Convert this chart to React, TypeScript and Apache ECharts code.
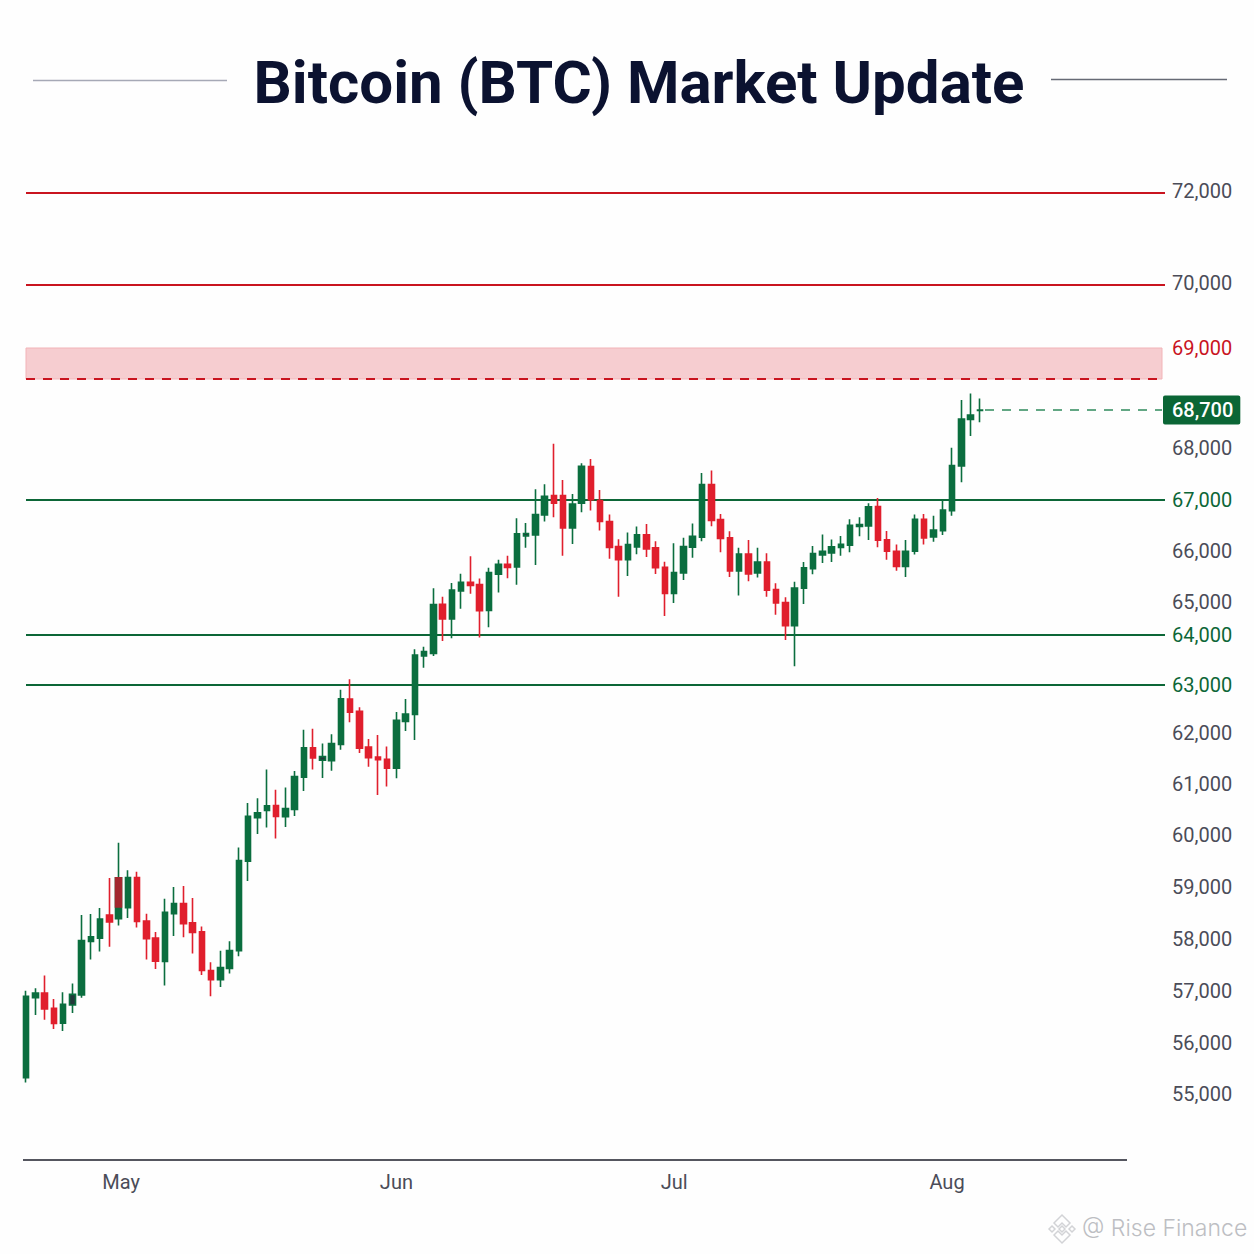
import React, { useEffect, useRef } from "react";
import * as echarts from "echarts";

const title = "Bitcoin (BTC) Market Update";
const watermark = "@ Rise Finance";

const bodyTops = [
  56898,56962,56962,56666,56743,56936,57972,58043,58384,58461,59175,59181,59181,58345,58017,58512,58680,58680,58313,58139,
  57393,57451,57779,59510,60365,60436,60571,60578,60520,61144,61710,61710,61536,61793,62715,62708,62451,61723,61530,61485,
  62264,62396,63600,63667,64919,64929,65233,65388,65388,65343,65576,65737,65737,66332,66339,66707,67063,67076,67076,66914,
  67645,67639,66979,66572,66087,66125,66313,66313,66061,65679,65576,66087,66287,67289,67289,66610,66255,65938,65938,65783,
  65783,65246,64980,65272,65673,65951,65996,66080,66132,66500,66513,66856,66863,66216,65996,65996,66617,66617,66407,66794,
  67658,68534,68608,68700,
];
const bodyBottoms = [
  55322,56872,56653,56377,56383,56731,56923,57953,58017,58326,58390,58603,58339,58004,57573,57567,58487,58294,58126,57393,
  57219,57219,57432,57773,59497,60340,60481,60365,60359,60501,61131,61510,61465,61459,61774,62431,61703,61517,61478,61311,
  61311,62243,62389,63580,63633,64485,64485,65219,65323,64737,64747,65543,65679,65686,66293,66313,66701,66927,66449,66449,
  66927,66998,66572,66067,65828,65828,66080,66041,65673,65168,65168,65569,66074,66268,66591,66242,65608,65608,65550,65569,
  65233,64970,64283,64283,65272,65653,65925,65964,66067,66112,66475,66487,66209,65996,65699,65699,65996,66255,66271,66394,
  66781,67652,68528,68690,
];
const highs = [
  57007,57052,57297,56846,56975,57142,58461,58480,58596,59175,59851,59323,59291,58487,58133,58776,59001,59021,58789,58242,
  57554,57773,57959,59760,60629,60719,61285,60887,60931,61253,62070,62090,61793,61974,62903,63113,62535,61884,61961,61736,
  62438,62708,63713,63767,65272,65103,65374,65556,65899,65459,65673,65828,65905,66636,66546,67199,67296,68078,67380,67108,
  67703,67787,67186,66707,66229,66358,66475,66526,66190,65789,66151,66255,66533,67516,67561,66720,66384,66061,66216,66061,
  65957,65369,65091,65395,65783,66099,66319,66222,66293,66617,66656,66927,67031,66390,66125,66216,66707,66720,66684,66994,
  68006,68748,68780,68756,
];
const lows = [
  55225,56538,56447,56267,56229,56576,56872,57605,57760,57850,58262,58403,58223,57605,57425,57104,58056,58036,57721,57309,
  56898,57078,57335,57670,59117,60018,60147,59934,60159,60372,60861,61285,61118,61260,61671,62222,61607,61337,60784,60951,
  61112,62042,61864,63347,63580,63880,63933,64798,65162,63950,64232,65188,65466,65336,66061,65724,66572,66656,65905,66138,
  66753,66785,66397,65847,65104,65511,65938,65880,65550,64576,64970,65433,65867,66190,66481,65977,65492,65129,65407,65479,
  65104,64616,63899,63374,64939,65543,65763,65783,65905,65977,66287,66216,66074,65828,65614,65492,65931,66125,66181,66310,
  66684,67336,68221,68473,
];
const redCandles = [2,3,9,12,13,14,17,18,19,20,27,31,35,36,37,38,39,45,48,49,52,57,58,61,62,63,64,67,68,69,74,75,76,78,80,81,82,92,93,94,97];
const darkCandles = [5,32,54,90];
const overlapCandle = { index: 10, top: 59175, bottom: 58615 };

const emptySlots = 20;
const monthLabels: Record<number, string> = { 10: "May", 40: "Jun", 70: "Jul", 100: "Aug" };

// Price labels as printed; the source's scale is not even, so each price has its own plotted height.
const tickPrices = [55000,56000,57000,58000,59000,60000,61000,62000,63000,64000,65000,66000,67000,68000,68700,69000,70000,72000];
const tickHeights = [0,51,103,155,207,259,310,361,409,459,492,543,594.5,646,684,746,809,901];

const redLevels = [72000, 70000];
const greenLevels = [67000, 64000, 63000];
const zoneTop = 69000;
const zoneBottom = 68850;
const lastPrice = 68700;

const GREEN = "#0b6e3f";
const LINE_GREEN = "#0c6637";
const RED = "#e01f2d";
const LINE_RED = "#c9141f";
const GREY = "#4b4c58";

function plot(p: number): number {
  for (let i = 1; i < tickPrices.length; i++) {
    if (p <= tickPrices[i]) {
      const t = (p - tickPrices[i - 1]) / (tickPrices[i] - tickPrices[i - 1]);
      return tickHeights[i - 1] + t * (tickHeights[i] - tickHeights[i - 1]);
    }
  }
  return tickHeights[tickHeights.length - 1];
}
const fmt = (p: number) => p.toLocaleString("en-US");

export default function App() {
  const ref = useRef<HTMLDivElement>(null);
  useEffect(() => {
    document.body.style.margin = "0";
    const chart = echarts.init(ref.current!, undefined, { renderer: "svg" });
    const total = bodyTops.length + emptySlots;
    const cats = Array.from({ length: total }, (_, i) => monthLabels[i] ?? "");
    const candles = bodyTops.map((top, i) => {
      const isRed = redCandles.includes(i);
      const value = [
        plot(isRed ? top : bodyBottoms[i]),
        plot(isRed ? bodyBottoms[i] : top),
        plot(lows[i]),
        plot(highs[i]),
      ];
      if (darkCandles.includes(i)) {
        return { value, itemStyle: { color: "#23383a", color0: "#23383a", borderColor: GREEN, borderColor0: GREEN } };
      }
      return { value };
    });
    const overlap = bodyTops.map((_, i) =>
      i === overlapCandle.index
        ? [plot(overlapCandle.top), plot(overlapCandle.bottom), plot(overlapCandle.bottom), plot(overlapCandle.top)]
        : ["-", "-", "-", "-"]
    );
    const level = (p: number, color: string) => [
      { x: 26, yAxis: plot(p), lineStyle: { color, width: 2.2, type: "solid" } },
      { x: 1165, yAxis: plot(p) },
    ];

    chart.setOption({
      animation: false,
      backgroundColor: "#fefefe",
      textStyle: { fontFamily: "Roboto" },
      title: {
        text: title,
        left: 634,
        top: 47,
        textAlign: "center",
        textStyle: { fontFamily: "Roboto", fontWeight: "bold", fontSize: 60, color: "#0b1230" },
      },
      grid: { left: 26, top: 150, width: 1139, height: 1010 },
      xAxis: {
        type: "category",
        data: cats,
        boundaryGap: false,
        axisLine: { show: false },
        axisTick: { show: false },
        splitLine: { show: false },
        axisLabel: {
          interval: 0,
          margin: 12,
          fontFamily: "Roboto",
          fontSize: 20,
          color: GREY,
          formatter: (v: string) => (v === "May" ? "{r|May}" : v === "Aug" ? "{l|Aug}" : v),
          rich: {
            r: { padding: [0, 0, 0, 5], fontSize: 20, color: GREY },
            l: { padding: [0, 10, 0, 0], fontSize: 20, color: GREY },
          },
        },
      },
      yAxis: {
        type: "value",
        position: "right",
        min: -66,
        max: 944,
        axisLine: { show: false },
        axisTick: { show: false },
        splitLine: { show: false },
        axisLabel: {
          margin: 7,
          fontFamily: "Roboto",
          fontSize: 20,
          customValues: tickPrices.filter((p) => p !== lastPrice).map(plot),
          formatter: (v: number) => {
            const p = tickPrices[tickHeights.indexOf(v)];
            return redLevels.includes(p) ? `{up|${fmt(p)}}` : fmt(p);
          },
          rich: { up: { padding: [0, 0, 4, 0], fontSize: 20, color: GREY } },
          color: (v: any) => {
            const p = tickPrices[tickHeights.indexOf(Number(v))];
            if (p === zoneTop) return LINE_RED;
            if (greenLevels.includes(p)) return LINE_GREEN;
            return GREY;
          },
        },
      },
      series: [
        {
          type: "candlestick",
          clip: false,
          barWidth: 6,
          z: 3,
          data: candles,
          itemStyle: { color: GREEN, color0: RED, borderColor: GREEN, borderColor0: RED, borderWidth: 1.6 },
          markLine: {
            silent: true,
            symbol: "none",
            z: 1,
            animation: false,
            label: { show: false },
            data: [
              ...redLevels.map((p) => level(p, LINE_RED)),
              ...greenLevels.map((p) => level(p, LINE_GREEN)),
              [
                { x: 26, yAxis: plot(zoneBottom), lineStyle: { color: LINE_RED, width: 2, type: [9, 8] } },
                { x: 1162, yAxis: plot(zoneBottom) },
              ],
              [
                {
                  x: 985,
                  yAxis: plot(lastPrice),
                  lineStyle: { color: "#2f8a5c", width: 1.6, type: [9, 8] },
                  label: {
                    show: true,
                    position: "end",
                    distance: 1,
                    formatter: fmt(lastPrice),
                    color: "#ffffff",
                    fontFamily: "Roboto",
                    fontSize: 20,
                    fontWeight: 500,
                    backgroundColor: "#0b6636",
                    borderRadius: 2,
                    padding: [5, 7, 4, 9],
                  },
                },
                { x: 1162, yAxis: plot(lastPrice) },
              ],
            ],
          },
          markArea: {
            silent: true,
            z: 0,
            itemStyle: { color: "#f6cdd0", borderColor: "#f2b4b8", borderWidth: 1 },
            data: [[{ x: 26, yAxis: plot(zoneTop) }, { x: 1162, yAxis: plot(zoneBottom) }]],
          },
        },
        {
          type: "candlestick",
          clip: false,
          barWidth: 6,
          z: 4,
          data: overlap,
          itemStyle: { color: "#a3282f", color0: "#a3282f", borderColor: "#a3282f", borderColor0: "#a3282f", borderWidth: 1.6 },
        },
      ],
      graphic: [
        { type: "line", shape: { x1: 33, y1: 80.5, x2: 227, y2: 80.5 }, style: { stroke: "#a6a9b6", lineWidth: 1.5 } },
        { type: "line", shape: { x1: 1051, y1: 79.5, x2: 1227, y2: 79.5 }, style: { stroke: "#666a75", lineWidth: 1.5 } },
        { type: "line", shape: { x1: 23, y1: 1160, x2: 1127, y2: 1160 }, style: { stroke: "#55565f", lineWidth: 2 } },
        {
          type: "text",
          x: 1082,
          y: 1216,
          style: { text: watermark, fontFamily: "Inter", fontSize: 23, fontWeight: 300, fill: "#bdbec3" },
        },
        {
          type: "group",
          x: 1062,
          y: 1229,
          children: [
            { type: "polygon", shape: { points: [[0, -14], [8, -6], [4, -2], [0, -6], [-4, -2], [-8, -6]] }, style: { fill: "none", stroke: "#d2d3d6", lineWidth: 1.5 } },
            { type: "polygon", shape: { points: [[0, 14], [8, 6], [4, 2], [0, 6], [-4, 2], [-8, 6]] }, style: { fill: "none", stroke: "#d2d3d6", lineWidth: 1.5 } },
            { type: "polygon", shape: { points: [[0, -3], [3, 0], [0, 3], [-3, 0]] }, style: { fill: "none", stroke: "#d2d3d6", lineWidth: 1.5 } },
            { type: "polygon", shape: { points: [[-10, -3], [-7, 0], [-10, 3], [-13, 0]] }, style: { fill: "none", stroke: "#d2d3d6", lineWidth: 1.5 } },
            { type: "polygon", shape: { points: [[10, -3], [13, 0], [10, 3], [7, 0]] }, style: { fill: "none", stroke: "#d2d3d6", lineWidth: 1.5 } },
          ],
        },
      ],
    });
    return () => chart.dispose();
  }, []);
  return <div ref={ref} style={{ width: 1254, height: 1254 }} />;
}
